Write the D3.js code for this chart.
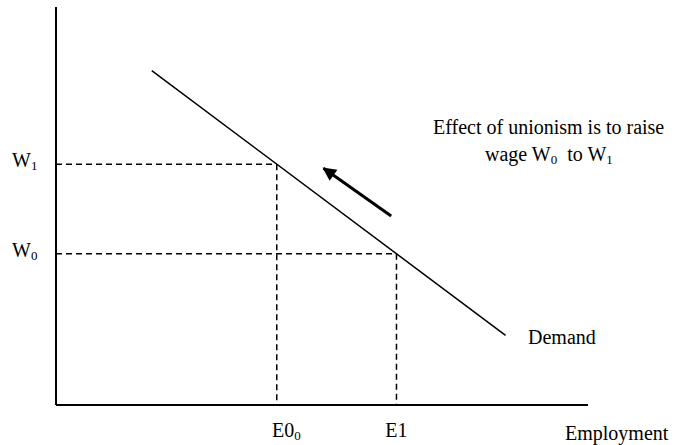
<!DOCTYPE html>
<html>
<head>
<meta charset="utf-8">
<script src="https://cdn.jsdelivr.net/npm/d3@7"></script>
<style>
  body { margin: 0; background: #fff; }
  text { font-family: "Liberation Serif", "Times New Roman", serif; fill: #000; }
</style>
</head>
<body>
<div id="container"></div>
<script>
// chart values (employment / wage units, 0..100)
let demandE = [18, 84.5];
let demandW = [84, 17.5];
let wageNames = ["W1", "W0"];
let wageValues = [60.5, 38];
let empNames = ["E0", "E1"];
let empValues = [41.5, 64];
let arrowFrom = [63, 47.5];
let arrowTo = [50.3, 59.5];

let w = 678;
let h = 445;
let fs = 20;   // main font size
let sub = 13;  // subscript size

let viz = d3.select("#container")
  .append("svg")
    .attr("width", w)
    .attr("height", h)
;

let xScale = d3.scaleLinear().domain([0, 100]).range([56, 588]);
let yScale = d3.scaleLinear().domain([0, 100]).range([405, 7]);

// axes (plain lines, no ticks)
viz.append("line")
  .attr("x1", xScale(0)).attr("y1", yScale(0))
  .attr("x2", xScale(0)).attr("y2", yScale(100))
  .attr("stroke", "#000").attr("stroke-width", 2);
viz.append("line")
  .attr("x1", xScale(0)).attr("y1", yScale(0))
  .attr("x2", xScale(100)).attr("y2", yScale(0))
  .attr("stroke", "#000").attr("stroke-width", 2);

// dashed guides
for (let i = 0; i < wageValues.length; i++) {
  viz.append("line")
    .attr("x1", xScale(0)).attr("y1", yScale(wageValues[i]))
    .attr("x2", xScale(empValues[i])).attr("y2", yScale(wageValues[i]))
    .attr("stroke", "#000").attr("stroke-width", 1.5)
    .attr("stroke-dasharray", "6,4");
  viz.append("line")
    .attr("x1", xScale(empValues[i])).attr("y1", yScale(wageValues[i]))
    .attr("x2", xScale(empValues[i])).attr("y2", yScale(0))
    .attr("stroke", "#000").attr("stroke-width", 1.5)
    .attr("stroke-dasharray", "6,4");
}

// demand curve
viz.append("line")
  .attr("x1", xScale(demandE[0])).attr("y1", yScale(demandW[0]))
  .attr("x2", xScale(demandE[1])).attr("y2", yScale(demandW[1]))
  .attr("stroke", "#000").attr("stroke-width", 1.5);

// arrow
viz.append("defs").append("marker")
  .attr("id", "head")
  .attr("viewBox", "0 0 10 10")
  .attr("refX", 9).attr("refY", 5)
  .attr("markerWidth", 5).attr("markerHeight", 4.5)
  .attr("markerUnits", "strokeWidth")
  .attr("orient", "auto")
  .append("path").attr("d", "M0,0 L10,5 L0,10 z").attr("fill", "#000");
viz.append("line")
  .attr("x1", xScale(arrowFrom[0])).attr("y1", yScale(arrowFrom[1]))
  .attr("x2", xScale(arrowTo[0])).attr("y2", yScale(arrowTo[1]))
  .attr("stroke", "#000").attr("stroke-width", 3)
  .attr("marker-end", "url(#head)");

// wage labels
wageNames.forEach(function(d, i) {
  let t = viz.append("text")
    .attr("x", 12).attr("y", yScale(wageValues[i]) + 3)
    .attr("font-size", fs);
  t.append("tspan").text(d[0]);
  t.append("tspan").text(d.slice(1)).attr("font-size", sub).attr("dy", 3);
});

// employment labels
let e0 = viz.append("text")
  .attr("x", 272).attr("y", 437)
  .attr("font-size", fs);
e0.append("tspan").text(empNames[0]);
e0.append("tspan").text("0").attr("font-size", sub).attr("dy", 3);

viz.append("text")
  .attr("x", xScale(empValues[1])).attr("y", 437)
  .attr("text-anchor", "middle").attr("font-size", fs)
  .text(empNames[1]);

viz.append("text")
  .attr("x", 565).attr("y", 440).attr("font-size", fs)
  .text("Employment");

viz.append("text")
  .attr("x", 528).attr("y", 344).attr("font-size", fs)
  .text("Demand");

// annotation
viz.append("text")
  .attr("x", 433).attr("y", 134).attr("font-size", fs)
  .text("Effect of unionism is to raise");
let ann = viz.append("text")
  .attr("x", 485).attr("y", 161).attr("font-size", fs)
  .attr("xml:space", "preserve");
ann.append("tspan").text("wage W");
ann.append("tspan").text("0").attr("font-size", sub).attr("dy", 3);
ann.append("tspan").text("  to W").attr("dy", -3);
ann.append("tspan").text("1").attr("font-size", sub).attr("dy", 3);
</script>
</body>
</html>
